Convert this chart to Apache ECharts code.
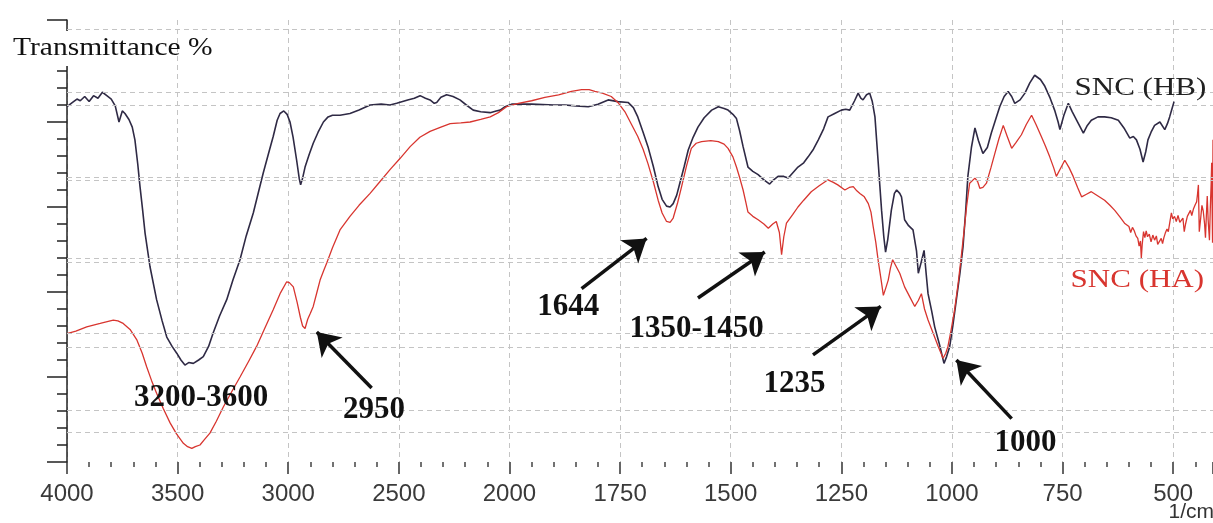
<!DOCTYPE html>
<html>
<head>
<meta charset="utf-8">
<script src="https://cdn.jsdelivr.net/npm/echarts@6/dist/echarts.min.js"></script>
<style>
html,body{margin:0;padding:0;background:#fff;}
#chart{width:1213px;height:523px;}
</style>
</head>
<body>
<div id="chart"></div>
<script>
// ---------- data ----------
const xTickWavenumbers = [4000, 3500, 3000, 2500, 2000, 1750, 1500, 1250, 1000, 750, 500];

const hbWavenumber = [4000,3975,3955,3940,3920,3900,3880,3860,3840,3820,3800,3782,3765,3750,3738,3720,3705,3693,3680,3670,3658,3647,3625,3595,3570,3549,3525,3504,3485,3467,3450,3429,3405,3384,3360,3339,3310,3278,3250,3218,3190,3158,3135,3113,3090,3068,3050,3037,3020,3005,2992,2978,2962,2950,2944,2935,2924,2905,2887,2865,2841,2820,2800,2766,2721,2680,2630,2580,2540,2510,2460,2430,2404,2380,2359,2340,2329,2310,2284,2255,2224,2195,2164,2130,2087,2060,2042,2020,1995,1950,1900,1875,1850,1822,1800,1777,1755,1732,1720,1710,1698,1687,1675,1664,1655,1645,1637,1630,1622,1615,1605,1596,1585,1574,1560,1543,1528,1515,1506,1495,1487,1480,1472,1461,1450,1438,1425,1412,1403,1393,1380,1370,1360,1348,1335,1325,1313,1302,1290,1280,1265,1250,1240,1231,1220,1212,1206,1201,1193,1186,1180,1174,1167,1159,1154,1150,1145,1137,1130,1125,1118,1114,1107,1098,1088,1080,1076,1070,1063,1058,1054,1046,1039,1028,1018,1012,1005,998,990,982,975,969,964,956,948,940,930,920,911,900,892,882,873,865,858,846,835,824,813,800,790,778,768,760,756,747,737,728,718,710,703,694,685,670,655,640,624,610,598,590,583,575,568,562,557,550,542,530,519,513,508,503,498];
const hbTransmittance = [41.8,42.3,42.7,42.5,43.0,42.4,43.1,42.8,43.5,43.1,42.7,41.9,40.0,41.3,41.0,40.3,39.4,37.9,35.0,32.4,29.6,26.9,23.0,19.1,16.6,14.7,13.6,12.8,12.0,11.4,11.7,11.6,12.0,12.4,13.6,15.2,17.2,19.1,21.4,23.8,26.6,29.3,31.7,34.0,36.2,38.3,40.2,41.0,41.3,40.9,40.0,38.2,35.5,33.3,32.6,33.4,34.7,36.2,37.5,38.8,40.0,40.6,40.8,40.8,41.0,41.4,42.0,42.1,42.0,42.2,42.6,42.8,43.1,42.8,42.6,42.2,42.3,42.9,43.2,43.0,42.6,42.0,41.4,41.2,41.1,41.3,41.4,41.8,42.1,42.1,42.0,42.0,41.9,41.8,42.1,42.6,42.4,42.3,41.7,40.6,38.8,37.1,34.8,32.4,30.9,30.1,30.0,30.4,31.4,32.8,34.8,36.7,38.2,39.4,40.5,41.4,41.8,41.6,41.4,40.9,40.4,39.0,37.1,34.7,34.2,33.8,33.2,32.7,33.2,33.6,33.6,33.4,34.0,34.7,35.2,35.9,36.8,37.9,39.2,40.6,41.0,41.4,41.5,41.4,42.5,43.4,42.8,42.6,43.2,43.4,42.4,40.6,35.5,29.6,26.5,24.7,26.2,29.6,31.6,32.0,31.6,31.2,28.5,27.8,27.3,24.8,22.2,23.4,24.9,22.0,19.8,17.8,15.9,13.8,11.6,12.4,13.6,16.0,19.1,22.2,25.3,29.5,33.6,37.0,39.3,37.8,36.3,37.0,38.7,40.5,41.8,43.0,43.6,43.0,42.2,42.6,43.4,44.6,45.5,45.0,44.2,42.8,41.4,40.0,39.1,40.8,42.2,41.2,40.2,39.4,38.7,39.6,40.2,40.6,40.6,40.5,40.2,39.2,38.1,38.3,37.9,36.8,35.3,36.5,37.9,38.8,39.6,40.0,39.1,39.8,40.6,41.5,42.4];

const haWavenumber = [4000,3960,3911,3850,3791,3770,3746,3715,3685,3660,3640,3618,3595,3565,3534,3505,3474,3455,3436,3420,3399,3380,3354,3325,3293,3255,3218,3180,3143,3105,3068,3035,3007,2995,2977,2960,2945,2935,2924,2912,2900,2887,2870,2856,2840,2826,2800,2766,2721,2680,2630,2585,2540,2495,2449,2405,2359,2310,2268,2220,2178,2130,2087,2050,2013,1980,1950,1920,1889,1860,1837,1820,1807,1790,1770,1755,1739,1725,1710,1698,1687,1675,1664,1655,1645,1637,1630,1620,1611,1600,1589,1578,1566,1545,1528,1515,1506,1495,1487,1480,1472,1466,1461,1450,1438,1425,1415,1405,1397,1390,1385,1380,1374,1360,1348,1335,1318,1300,1280,1268,1258,1242,1232,1223,1215,1208,1198,1189,1183,1178,1172,1167,1160,1155,1150,1144,1139,1134,1126,1118,1107,1095,1084,1076,1069,1062,1054,1042,1031,1020,1014,1009,1002,994,986,978,972,967,960,948,942,937,930,922,912,903,894,884,875,865,855,843,832,820,810,798,789,779,770,764,755,745,735,726,716,707,696,685,670,655,643,632,620,610,600,596,592,588,584,580,577,574,572,570,567,564,561,558,554,550,546,542,538,535,531,527,524,521,518,514,511,507,504,501,497,493,489,485,481,478,475,472,468,465,461,458,454,450,447,445,443,441,438,435,432,429,427,425,423,421,419,418,416,414,413,412,411,410];
const haTransmittance = [15.1,15.4,15.9,16.3,16.7,16.6,16.3,15.6,14.4,12.8,11.2,9.6,8.1,6.3,4.6,3.3,2.2,1.8,1.6,1.8,2.0,2.6,3.4,4.8,6.5,8.3,10.0,11.8,13.6,15.8,17.9,19.9,21.2,21.1,20.6,18.8,17.0,16.0,15.7,16.8,17.5,18.3,20.0,21.4,22.5,23.4,25.2,27.3,28.9,30.2,31.6,33.0,34.4,35.7,37.1,38.2,38.9,39.4,39.8,39.9,40.0,40.3,40.6,41.1,41.8,42.2,42.5,42.9,43.2,43.6,43.8,43.8,43.6,43.4,43.0,42.3,41.2,39.8,38.3,36.8,35.1,33.0,30.8,29.3,28.3,28.2,28.7,30.5,32.4,34.8,36.9,37.5,37.7,37.8,37.7,37.4,36.9,35.9,34.7,33.5,32.0,30.6,29.4,28.9,28.5,28.0,27.5,28.0,28.3,27.0,24.4,26.5,28.1,29.1,30.0,30.8,31.8,32.5,33.2,32.9,32.6,32.0,32.3,32.4,31.9,31.6,31.2,30.4,29.4,27.7,25.8,23.8,21.4,19.6,20.4,21.4,22.8,23.8,23.0,22.2,20.6,19.4,18.3,19.0,19.8,18.0,16.7,15.1,13.6,12.2,12.8,13.6,15.5,17.9,21.0,24.6,27.5,30.0,32.8,33.4,33.0,32.2,32.3,32.8,34.6,36.3,38.0,39.6,38.3,36.9,37.6,38.5,39.7,40.8,39.7,38.3,37.2,35.9,34.6,33.6,34.5,35.5,34.6,33.6,32.3,31.2,31.5,31.8,31.3,30.8,30.2,29.6,28.8,28.1,27.7,27.0,27.6,27.2,26.6,26.3,25.4,26.0,24.0,25.6,27.1,26.4,27.2,26.5,26.8,25.9,26.7,26.1,26.6,25.6,25.5,26.3,25.7,26.4,26.9,27.4,27.1,28.4,29.3,28.6,28.9,28.3,29.0,28.2,28.0,28.7,27.1,28.0,28.9,29.1,29.6,29.0,29.8,30.3,30.6,31.5,32.6,27.1,28.6,30.2,29.5,28.0,26.4,29.0,31.3,28.5,26.9,26.1,30.0,33.0,35.2,30.0,25.8,37.9];

const seriesNames = ['SNC (HB)', 'SNC (HA)'];
const seriesLabelWavenumber = [574, 581];
const seriesLabelTransmittance = [44.0, 21.4];

const peakLabels = ['3200-3600', '2950', '1644', '1350-1450', '1235', '1000'];
const peakLabelWavenumber = [3394, 2612, 1867, 1577, 1356, 834];
const peakLabelTransmittance = [7.5, 6.1, 18.2, 15.6, 9.2, 2.2];

const arrowFromWavenumber = [2623, 1837, 1574, 1314, 865];
const arrowFromTransmittance = [8.7, 20.4, 19.3, 12.6, 5.1];
const arrowToWavenumber = [2871, 1690, 1423, 1161, 990];
const arrowToTransmittance = [15.3, 26.3, 24.7, 18.3, 12.0];

const gridLinesA = [50.9, 42.0, 33.1, 24.0, 15.1, 6.1];
const gridLinesB = [43.5, 33.5, 23.5, 13.5, 3.5];

const yAxisTitle = 'Transmittance %';
const xAxisUnit = '1/cm';

// ---------- FTIR wavenumber axis: 4000-2000 at 1x, below 2000 expanded 2x ----------
function toAxis(w) { return w >= 2000 ? 4000 - w : 2000 + 2 * (2000 - w); }
function fromAxis(t) { return t <= 2000 ? 4000 - t : 2000 - (t - 2000) / 2; }

const hbColor = '#2f2a45';
const haColor = '#d8352f';

const hbData = hbWavenumber.map((w, i) => [toAxis(w), hbTransmittance[i]]);
const haData = haWavenumber.map((w, i) => [toAxis(w), haTransmittance[i]]);

const chart = echarts.init(document.getElementById('chart'), null, {renderer: 'canvas'});

const option = {
  animation: false,
  backgroundColor: '#ffffff',
  grid: {left: 67, right: 0, top: 20, bottom: 61},
  xAxis: {
    type: 'value',
    min: 0,
    max: toAxis(410),
    interval: 500,
    offset: 6,
    axisLine: {show: false},
    axisTick: {show: true, length: 12, lineStyle: {color: '#333', width: 1.5}},
    minorTick: {show: true, splitNumber: 5, length: 5, lineStyle: {color: '#444', width: 1.5}},
    splitLine: {show: true, lineStyle: {color: '#c4c4c4', type: [5, 4], width: 1}},
    axisLabel: {
      show: true,
      margin: 14,
      fontSize: 24,
      fontFamily: '"Liberation Sans", Arial, sans-serif',
      color: '#3a3a3a',
      showMaxLabel: false,
      formatter: function (val) {
        const w = Math.round(fromAxis(val));
        return xTickWavenumbers.indexOf(w) >= 0 ? String(w) : '';
      }
    }
  },
  yAxis: {
    type: 'value',
    min: 0,
    max: 52,
    interval: 10,
    axisLine: {show: true, lineStyle: {color: '#222', width: 1.5}},
    axisTick: {show: true, length: 20, lineStyle: {color: '#222', width: 1.5}},
    minorTick: {show: true, splitNumber: 5, length: 10, lineStyle: {color: '#222', width: 1.5}},
    splitLine: {show: false},
    axisLabel: {show: false}
  },
  series: [
    {
      type: 'line',
      name: 'gridlines',
      data: [],
      z: 1,
      silent: true,
      markLine: {
        silent: true,
        symbol: 'none',
        animation: false,
        label: {show: false},
        lineStyle: {color: '#c4c4c4', type: [5, 4], width: 1},
        data: gridLinesA.concat(gridLinesB).map(v => ({yAxis: v}))
      }
    },
    {
      type: 'line',
      name: seriesNames[0],
      data: hbData,
      showSymbol: false,
      symbol: 'none',
      z: 3,
      lineStyle: {color: hbColor, width: 1.6}
    },
    {
      type: 'line',
      name: seriesNames[1],
      data: haData,
      showSymbol: false,
      symbol: 'none',
      z: 3,
      lineStyle: {color: haColor, width: 1.3}
    },
    {
      type: 'line',
      name: 'annotations',
      data: [],
      z: 5,
      silent: true,
      markLine: {
        silent: true,
        animation: false,
        symbol: ['none', 'arrow'],
        symbolSize: 22,
        label: {show: false},
        lineStyle: {color: '#111', width: 3.5, type: 'solid'},
        data: arrowFromWavenumber.map((w, i) => [
          {coord: [toAxis(w), arrowFromTransmittance[i]]},
          {coord: [toAxis(arrowToWavenumber[i]), arrowToTransmittance[i]]}
        ])
      },
      markPoint: {
        silent: true,
        animation: false,
        symbol: 'rect',
        symbolSize: 1,
        itemStyle: {color: 'rgba(0,0,0,0)'},
        label: {
          show: true,
          position: 'inside',
          fontFamily: '"Liberation Serif", "Times New Roman", serif',
          fontWeight: 'bold',
          fontSize: 31,
          color: '#111',
          formatter: p => p.name
        },
        data: peakLabels.map((n, i) => ({
          name: n,
          coord: [toAxis(peakLabelWavenumber[i]), peakLabelTransmittance[i]]
        }))
      }
    }
  ]
};

chart.setOption(option);

const colors = [hbColor, haColor];
const graphics = [
  {type: 'rect', shape: {x: 40, y: 31, width: 34, height: 35}, style: {fill: '#fff'}, z: 90},
  {type: 'text', x: 13, y: 48, scaleX: 1.18, z: 100,
   style: {text: yAxisTitle, fontSize: 25, fontFamily: '"Liberation Serif", "Times New Roman", serif',
           fill: '#111', align: 'left', verticalAlign: 'middle'}},
  {type: 'text', x: 1214, y: 512, z: 100,
   style: {text: xAxisUnit, fontSize: 21, fontFamily: '"Liberation Sans", Arial, sans-serif',
           fill: '#333', align: 'right', verticalAlign: 'middle'}}
];
seriesNames.forEach((n, i) => {
  const p = chart.convertToPixel({gridIndex: 0}, [toAxis(seriesLabelWavenumber[i]), seriesLabelTransmittance[i]]);
  graphics.push({
    type: 'text', x: p[0], y: p[1], scaleX: 1.24, z: 100,
    style: {text: n, fontSize: 25, fontFamily: '"Liberation Serif", "Times New Roman", serif',
            fill: i === 0 ? '#222' : colors[1], align: 'center', verticalAlign: 'middle'}
  });
});
chart.setOption({graphic: graphics});
</script>
</body>
</html>
